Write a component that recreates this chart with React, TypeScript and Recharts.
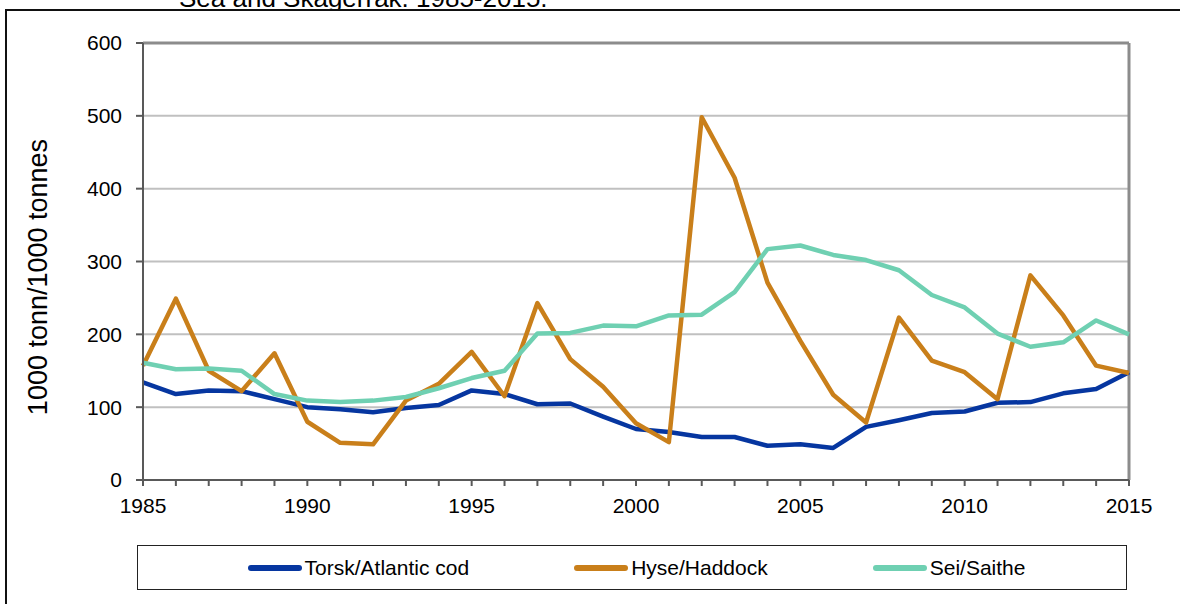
import { LineChart, Line, XAxis, YAxis, CartesianGrid, ReferenceLine } from "recharts"

const years = [
  1985, 1986, 1987, 1988, 1989, 1990, 1991, 1992, 1993, 1994, 1995, 1996, 1997, 1998, 1999, 2000,
  2001, 2002, 2003, 2004, 2005, 2006, 2007, 2008, 2009, 2010, 2011, 2012, 2013, 2014, 2015,
]
const cod = [
  134, 118, 123, 122, 111, 100, 97, 93, 99, 103, 123, 118, 104, 105, 87, 70,
  66, 59, 59, 47, 49, 44, 73, 82, 92, 94, 106, 107, 119, 125, 148,
]
const haddock = [
  157, 249, 150, 122, 174, 80, 51, 49, 109, 132, 176, 115, 243, 166, 128, 78,
  52, 498, 415, 271, 191, 117, 79, 223, 164, 148, 111, 281, 226, 157, 147,
]
const saithe = [
  161, 152, 153, 150, 118, 109, 107, 109, 114, 126, 140, 150, 201, 202, 212, 211,
  226, 227, 258, 317, 322, 309, 302, 288, 254, 237, 201, 183, 189, 219, 200,
]
const yTicks = [0, 100, 200, 300, 400, 500, 600]

const series = [
  { key: "cod", name: "Torsk/Atlantic cod", color: "#0636A0" },
  { key: "haddock", name: "Hyse/Haddock", color: "#C97F1A" },
  { key: "saithe", name: "Sei/Saithe", color: "#6FD0B2" },
]

const data = years.map((year, i) => ({
  year,
  cod: cod[i],
  haddock: haddock[i],
  saithe: saithe[i],
}))

const font = '"Liberation Sans", Arial, sans-serif'
const axisColor = "#595959"

export default function App() {
  return (
    <div
      style={{
        position: "absolute",
        left: 0,
        top: 0,
        width: 1180,
        height: 604,
        overflow: "hidden",
        background: "#fff",
        fontFamily: font,
      }}
    >
      {/* caption above the frame, only its lower part shows */}
      <div
        style={{
          position: "absolute",
          left: 179,
          top: -17,
          fontSize: 26,
          lineHeight: "30px",
          whiteSpace: "nowrap",
          color: "#000",
        }}
      >
        Sea and Skagerrak. 1985-2015.
      </div>
      <div
        style={{
          position: "absolute",
          left: 5,
          top: 9,
          width: 1300,
          height: 700,
          borderTop: "2px solid #111",
          borderLeft: "2px solid #111",
          background: "#fff",
        }}
      />
      <div style={{ position: "absolute", left: 0, top: 0 }}>
        <LineChart width={1180} height={604} data={data} margin={{ top: 43, right: 51, left: 83, bottom: 94 }}>
          <CartesianGrid horizontal vertical={false} stroke="#C0C0C0" strokeWidth={2} />
          <XAxis
            dataKey="year"
            type="number"
            domain={[1985, 2015]}
            ticks={years}
            interval={0}
            height={30}
            tickFormatter={(v: number) => (v % 5 === 0 ? String(v) : "")}
            tick={{ fill: "#000", fontSize: 21, fontFamily: font }}
            tickSize={6}
            tickMargin={12}
            axisLine={{ stroke: axisColor, strokeWidth: 2 }}
            tickLine={{ stroke: axisColor, strokeWidth: 2 }}
          />
          <YAxis
            domain={[0, 600]}
            ticks={yTicks}
            width={60}
            tick={{ fill: "#000", fontSize: 21, fontFamily: font }}
            tickSize={7}
            tickMargin={14}
            axisLine={{ stroke: axisColor, strokeWidth: 2 }}
            tickLine={{ stroke: axisColor, strokeWidth: 2 }}
          />
          <ReferenceLine y={600} stroke="#8C8C8C" strokeWidth={3} />
          <ReferenceLine x={2015} stroke="#8C8C8C" strokeWidth={3} />
          {series.map((s) => (
            <Line
              key={s.key}
              type="linear"
              dataKey={s.key}
              name={s.name}
              stroke={s.color}
              strokeWidth={4.5}
              strokeLinejoin="round"
              dot={false}
              activeDot={false}
              isAnimationActive={false}
            />
          ))}
        </LineChart>
      </div>
      <svg width={80} height={604} style={{ position: "absolute", left: 0, top: 0 }}>
        <text
          x={38}
          y={277}
          transform="rotate(-90, 38, 277)"
          textAnchor="middle"
          dominantBaseline="central"
          fontSize={27}
          fontFamily={font}
          fill="#000"
        >
          1000 tonn/1000 tonnes
        </text>
      </svg>
      <div
        style={{
          position: "absolute",
          left: 137,
          top: 545,
          width: 990,
          height: 45,
          boxSizing: "border-box",
          border: "1px solid #222",
          display: "flex",
          alignItems: "center",
          justifyContent: "center",
          gap: 105,
          paddingLeft: 9,
        }}
      >
        {series.map((s) => (
          <div key={s.key} style={{ display: "flex", alignItems: "center" }}>
            <div style={{ width: 54, height: 6, borderRadius: 3, background: s.color, marginRight: 3 }} />
            <span style={{ fontSize: 21, color: "#000", whiteSpace: "nowrap" }}>{s.name}</span>
          </div>
        ))}
      </div>
    </div>
  )
}
